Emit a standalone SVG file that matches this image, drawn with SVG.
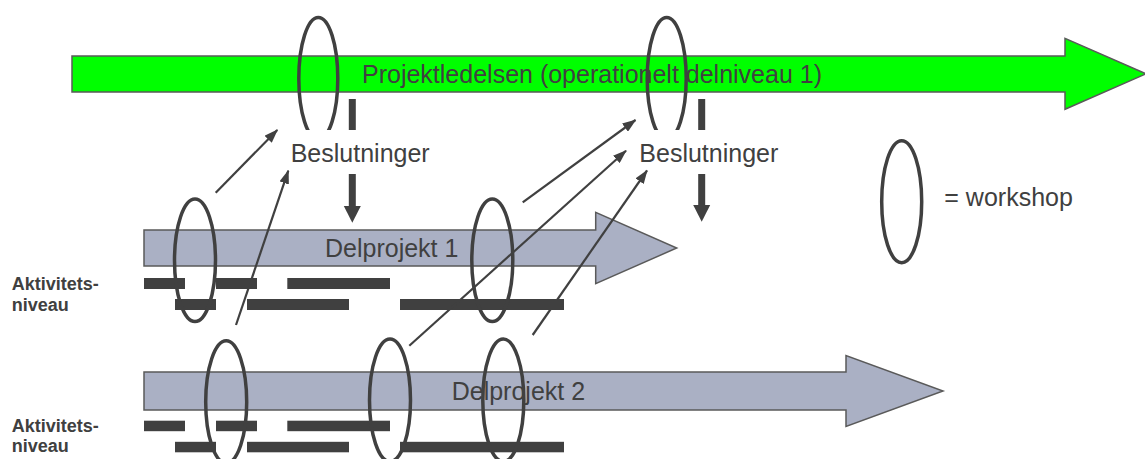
<svg xmlns="http://www.w3.org/2000/svg" width="1145" height="459" viewBox="0 0 1145 459">
<defs>
<style>
.lbl{font-family:"Liberation Sans",Arial,sans-serif;font-size:25px;fill:#404040}
.side{font-family:"Liberation Sans",Arial,sans-serif;font-size:18px;font-weight:bold;fill:#404040}
.ws{fill:none;stroke:#404040;stroke-width:3.5}
.bar{fill:#404040}
.dp{fill:#aab0c4;stroke:#5a5a5a;stroke-width:1.5}
.con{stroke:#404040;stroke-width:2.2;fill:none;marker-end:url(#ah)}
.blk{fill:#404040}
</style>
<marker id="ah" viewBox="0 0 14 10" markerWidth="14" markerHeight="10" refX="13" refY="5" orient="auto" markerUnits="userSpaceOnUse">
<path d="M0,0 L14,5 L0,10 z" fill="#404040"/>
</marker>
</defs>
<rect width="1145" height="459" fill="#ffffff"/>

<g id="projektledelsen">
<polygon points="72,56 1065,56 1065,38.3 1146,73.8 1065,109.3 1065,92 72,92" fill="#00ff00" stroke="#5a5a5a" stroke-width="1.5"/>
<text class="lbl" x="362" y="83">Projektledelsen (operationelt delniveau 1)</text>
</g>

<g id="delprojekt1">
<polygon class="dp" points="144,230 595.7,230 595.7,212.3 676.7,248 595.7,283.7 595.7,266 144,266"/>
<text class="lbl" x="325" y="257.3">Delprojekt 1</text>
</g>

<g id="delprojekt2">
<polygon class="dp" points="144,372 846,372 846,355.5 943,391 846,426.5 846,410 144,410"/>
<text class="lbl" x="451.7" y="400">Delprojekt 2</text>
</g>

<g id="aktivitet1">
<rect class="bar" x="144" y="278" width="41" height="11"/>
<rect class="bar" x="216" y="278" width="41" height="11"/>
<rect class="bar" x="287.3" y="278" width="102.7" height="11"/>
<rect class="bar" x="175" y="299" width="41" height="11"/>
<rect class="bar" x="247" y="299" width="102" height="11"/>
<rect class="bar" x="400" y="299" width="164" height="11"/>
<text class="side" x="11.7" y="290">Aktivitets-</text>
<text class="side" x="11.7" y="311">niveau</text>
</g>

<g id="aktivitet2">
<rect class="bar" x="144" y="420.7" width="41" height="10.5"/>
<rect class="bar" x="216" y="420.7" width="41" height="10.5"/>
<rect class="bar" x="287.3" y="420.7" width="102.7" height="10.5"/>
<rect class="bar" x="175" y="441.8" width="41" height="10.5"/>
<rect class="bar" x="247" y="441.8" width="102" height="10.5"/>
<rect class="bar" x="400" y="441.8" width="164" height="10.5"/>
<text class="side" x="11.7" y="432">Aktivitets-</text>
<text class="side" x="11.7" y="452">niveau</text>
</g>

<g id="workshops">
<ellipse class="ws" cx="318.3" cy="78.5" rx="19.5" ry="61"/>
<ellipse class="ws" cx="666.7" cy="78.5" rx="19.5" ry="61"/>
<ellipse class="ws" cx="195" cy="260.3" rx="20.5" ry="61.2"/>
<ellipse class="ws" cx="492.3" cy="260.3" rx="20.5" ry="61.2"/>
<ellipse class="ws" cx="226.2" cy="402" rx="20.5" ry="61.2"/>
<ellipse class="ws" cx="390" cy="400.3" rx="20.5" ry="61.2"/>
<ellipse class="ws" cx="503.3" cy="400.3" rx="20.5" ry="61.2"/>
</g>

<g id="beslutninger1">
<rect class="blk" x="348.8" y="99" width="7" height="108"/>
<polygon class="blk" points="343.8,206 360.8,206 352.3,222.7"/>
<rect x="287" y="130" width="145" height="44" fill="#ffffff"/>
<text class="lbl" x="290.7" y="162.3">Beslutninger</text>
</g>

<g id="beslutninger2">
<rect class="blk" x="698.2" y="99" width="7" height="107"/>
<polygon class="blk" points="693.2,205 710.2,205 701.7,221.7"/>
<rect x="636.5" y="130" width="145" height="44" fill="#ffffff"/>
<text class="lbl" x="639.3" y="161.5">Beslutninger</text>
</g>

<g id="legend">
<ellipse class="ws" cx="901.7" cy="201.7" rx="20" ry="61"/>
<text class="lbl" x="944.3" y="205.7">= workshop</text>
</g>

<g id="connectors">
<line class="con" x1="215.7" y1="192.7" x2="277.3" y2="130"/>
<line class="con" x1="236" y1="325" x2="288.3" y2="170.7"/>
<line class="con" x1="522.7" y1="202.3" x2="635.5" y2="120"/>
<line class="con" x1="409.3" y1="345.7" x2="626" y2="150.7"/>
<line class="con" x1="532.7" y1="335" x2="647" y2="170.5"/>
</g>
</svg>
